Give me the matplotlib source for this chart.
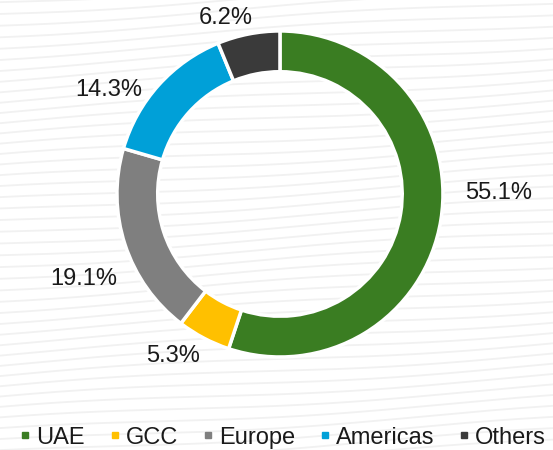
import numpy as np
import matplotlib.pyplot as plt
from matplotlib.lines import Line2D

plt.rcParams["font.family"] = ["Liberation Sans", "DejaVu Sans"]

regions = ["UAE", "GCC", "Europe", "Americas", "Others"]
shares = [55.1, 5.3, 19.1, 14.3, 6.2]
colors = ["#3a7d22", "#ffc000", "#7f7f7f", "#00a0d8", "#3a3a3a"]

# label placement: distance from centre (in radii) and angular nudge (deg)
label_radius = [1.34, 1.19, 1.31, 1.23, 1.13]
label_nudge = [9.5, -5.5, 5.2, 10.7, 5.8]

fig = plt.figure(figsize=(5.53, 4.5), dpi=100)
fig.patch.set_facecolor("white")

# faint striped backdrop
bg = fig.add_axes([0, 0, 1, 1], zorder=0)
bg.set_xlim(0, 553)
bg.set_ylim(450, 0)
bg.axis("off")
xs = np.linspace(0, 553, 200)
for y0 in np.arange(-20, 520, 11):
    ys = y0 - 0.06 * xs + 3 * np.sin(xs / 90 + y0 / 40)
    bg.plot(xs, ys, color="#f1f1f1", lw=1.3, solid_capstyle="round")

ax = fig.add_axes([0.5063 - 0.4422, 0.5689 - 0.5433, 0.8843, 1.0867], zorder=1)
ax.patch.set_alpha(0)
wedges, _ = ax.pie(
    shares,
    colors=colors,
    startangle=90,
    counterclock=False,
    radius=1.0,
    wedgeprops=dict(width=0.25, edgecolor="white", linewidth=2.5),
)
ax.set_xlim(-1.5, 1.5)
ax.set_ylim(-1.5, 1.5)
ax.set_aspect("equal")
ax.axis("off")

for w, val, r, nudge in zip(wedges, shares, label_radius, label_nudge):
    ang = np.deg2rad((w.theta1 + w.theta2) / 2 + nudge)
    ax.text(r * np.cos(ang), r * np.sin(ang), f"{val:.1f}%",
            ha="center", va="center", fontsize=17, color="#1a1a1a")

handles = [Line2D([], [], marker="s", ls="", color=c, markersize=4.3) for c in colors]
fig.legend(handles, regions, loc="lower center", bbox_to_anchor=(0.512, 0.003),
           ncol=5, frameon=False, fontsize=17, handlelength=0.4,
           handletextpad=0.27, columnspacing=1.06, borderpad=0, borderaxespad=0,
           labelcolor="#1a1a1a")

fig.savefig("out.png", dpi=100, facecolor="white")
